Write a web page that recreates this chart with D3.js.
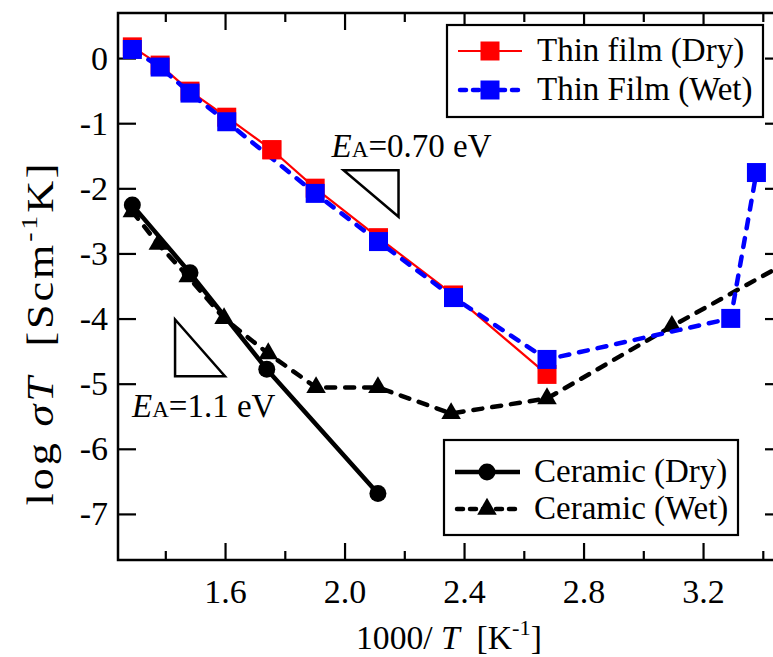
<!DOCTYPE html>
<html>
<head>
<meta charset="utf-8">
<script src="https://cdn.jsdelivr.net/npm/d3@7"></script>
<style>
  body { margin: 0; background: #fff; }
  svg { display: block; font-family: "Liberation Serif", "Times New Roman", serif; }
</style>
</head>
<body>
<svg id="chart" width="773" height="657"></svg>
<script>
// data (x = 1000/T, y = log sigmaT)
var thinX      = [1.288, 1.381, 1.481, 1.604, 1.755, 1.900, 2.112, 2.363, 2.676];
var thinDryY   = [0.18, -0.10, -0.50, -0.90, -1.40, -1.99, -2.75, -3.63, -4.85];
var thinWetX   = [1.288, 1.381, 1.481, 1.604, 1.900, 2.112, 2.363, 2.676, 3.291, 3.377];
var thinWetY   = [0.14, -0.13, -0.53, -0.97, -2.07, -2.81, -3.67, -4.62, -3.99, -1.75];
var ceraDryX   = [1.288, 1.481, 1.738, 2.110];
var ceraDryY   = [-2.25, -3.29, -4.77, -6.68];
var ceraWetX   = [1.288, 1.375, 1.475, 1.595, 1.743, 1.903, 2.110, 2.355, 2.676, 3.094, 3.50];
var ceraWetY   = [-2.35, -2.85, -3.35, -3.99, -4.53, -5.05, -5.05, -5.45, -5.22, -4.11, -3.08];

var xMajor = [1.6, 2.0, 2.4, 2.8, 3.2];
var xMinor = [1.4, 1.8, 2.2, 2.6, 3.0, 3.4];
var yTicks = [0, -1, -2, -3, -4, -5, -6, -7];

var legendTop = ["Thin film (Dry)", "Thin Film (Wet)"];
var legendBottom = ["Ceramic (Dry)", "Ceramic (Wet)"];

// slope triangles (data units)
var slopeHi = [[1.995, -1.713], [2.179, -1.713], [2.179, -2.43]];
var slopeLo = [[1.431, -4.006], [1.431, -4.877], [1.598, -4.877]];

var svg = d3.select("#chart");
var pL = 118, pT = 13, pB = 560, pR = 784;

var x = d3.scaleLinear().domain([1.24, 3.4]).range([pL, 763.3]);
var y = d3.scaleLinear().domain([-7.7, 0.7]).range([pB, pT]);

function zip(xs, ys) { return xs.map(function(d, i) { return [d, ys[i]]; }); }
function at(d) { return "translate(" + x(d[0]) + "," + y(d[1]) + ")"; }

svg.append("clipPath").attr("id", "clip")
    .append("rect").attr("x", pL).attr("y", pT)
    .attr("width", pR - pL).attr("height", pB - pT);

// frame
svg.append("rect")
    .attr("x", pL).attr("y", pT)
    .attr("width", pR - pL).attr("height", pB - pT)
    .attr("fill", "none").attr("stroke", "#000").attr("stroke-width", 2.5);

// ticks (inward, all four sides)
var tk = svg.append("g").attr("stroke", "#000").attr("stroke-width", 2.2);
xMajor.forEach(function(v) {
    tk.append("line").attr("x1", x(v)).attr("x2", x(v)).attr("y1", pB).attr("y2", pB - 17);
    tk.append("line").attr("x1", x(v)).attr("x2", x(v)).attr("y1", pT).attr("y2", pT + 17);
});
xMinor.forEach(function(v) {
    tk.append("line").attr("x1", x(v)).attr("x2", x(v)).attr("y1", pB).attr("y2", pB - 9);
    tk.append("line").attr("x1", x(v)).attr("x2", x(v)).attr("y1", pT).attr("y2", pT + 9);
});
yTicks.forEach(function(v) {
    tk.append("line").attr("x1", pL).attr("x2", pL + 18).attr("y1", y(v)).attr("y2", y(v));
    tk.append("line").attr("x1", pR).attr("x2", pR - 19).attr("y1", y(v)).attr("y2", y(v));
});

// tick labels
svg.append("g").selectAll("text").data(xMajor).enter().append("text")
    .attr("x", function(d) { return x(d); }).attr("y", 603)
    .attr("text-anchor", "middle").attr("font-size", 34)
    .text(function(d) { return d.toFixed(1); });

svg.append("g").selectAll("text").data(yTicks).enter().append("text")
    .attr("x", 108).attr("y", function(d) { return y(d) + 11; })
    .attr("text-anchor", "end").attr("font-size", 34)
    .text(function(d) { return d === 0 ? "0" : "-" + Math.abs(d); });

// stretch a title along its writing direction to the length seen in the picture
function stretch(sel, base, len) {
    var w = sel.node().getBBox().width;
    sel.attr("transform", base + " scale(" + (len / w) + ",1)");
}

// axis titles
var xt = svg.append("text").attr("text-anchor", "middle").attr("font-size", 33);
xt.append("tspan").text("1000/ ");
xt.append("tspan").attr("font-style", "italic").text("T");
xt.append("tspan").attr("xml:space", "preserve").text("  [K");
xt.append("tspan").attr("font-size", 22).attr("dy", -14).text("-1");
xt.append("tspan").attr("dy", 14).text("]");
stretch(xt, "translate(449,649)", 186);

var yt = svg.append("text").attr("text-anchor", "middle").attr("font-size", 38)
    .attr("letter-spacing", 2.5);
yt.append("tspan").text("log ");
yt.append("tspan").attr("font-style", "italic").text("\u03c3T");
yt.append("tspan").attr("xml:space", "preserve").text("  [Scm");
yt.append("tspan").attr("font-size", 24).attr("dy", -16).text("-1");
yt.append("tspan").attr("dy", 16).text("K]");
stretch(yt, "translate(53,333) rotate(-90)", 345);

// data
var plot = svg.append("g").attr("clip-path", "url(#clip)");
var line = d3.line().x(function(d) { return x(d[0]); }).y(function(d) { return y(d[1]); });

var sq = d3.symbol().type(d3.symbolSquare).size(361);
var circ = d3.symbol().type(d3.symbolCircle).size(227);
var tri = d3.symbol().type(d3.symbolTriangle).size(165);

// ceramic dry
plot.append("path").datum(zip(ceraDryX, ceraDryY)).attr("d", line)
    .attr("fill", "none").attr("stroke", "#000").attr("stroke-width", 4.5);
// ceramic wet
plot.append("path").datum(zip(ceraWetX, ceraWetY)).attr("d", line)
    .attr("fill", "none").attr("stroke", "#000").attr("stroke-width", 4.5)
    .attr("stroke-dasharray", "9,10").attr("stroke-linecap", "round");
plot.selectAll(".tri").data(zip(ceraWetX, ceraWetY)).enter().append("path")
    .attr("class", "tri").attr("d", tri).attr("transform", at);
plot.selectAll(".circ").data(zip(ceraDryX, ceraDryY)).enter().append("path")
    .attr("class", "circ").attr("d", circ).attr("transform", at);

// thin film dry
plot.append("path").datum(zip(thinX, thinDryY)).attr("d", line)
    .attr("fill", "none").attr("stroke", "#ff0000").attr("stroke-width", 2.2);
plot.selectAll(".sqr").data(zip(thinX, thinDryY)).enter().append("path")
    .attr("class", "sqr").attr("d", sq).attr("fill", "#ff0000").attr("transform", at);
// thin film wet
plot.append("path").datum(zip(thinWetX, thinWetY)).attr("d", line)
    .attr("fill", "none").attr("stroke", "#0000ff").attr("stroke-width", 4.5)
    .attr("stroke-dasharray", "9,10").attr("stroke-linecap", "round");
plot.selectAll(".sqb").data(zip(thinWetX, thinWetY)).enter().append("path")
    .attr("class", "sqb").attr("d", sq).attr("fill", "#0000ff").attr("transform", at);
// red square at 1.755 sits above the wet line
plot.append("path").datum([thinX[4], thinDryY[4]]).attr("d", sq).attr("fill", "#ff0000")
    .attr("transform", at);

// slope triangles
[slopeHi, slopeLo].forEach(function(t) {
    svg.append("path")
        .attr("d", line(t) + "Z")
        .attr("fill", "none").attr("stroke", "#000").attr("stroke-width", 2.5);
});

function eaLabel(px, py, val) {
    var t = svg.append("text").attr("x", px).attr("y", py).attr("font-size", 33);
    t.append("tspan").attr("font-style", "italic").text("E");
    t.append("tspan").attr("font-size", 23).text("A");
    t.append("tspan").text("=" + val + " eV");
}
eaLabel(x(1.955), y(-1.51), "0.70");
eaLabel(x(1.287), y(-5.50), "1.1");

// legends
function legend(bx, by, bw, bh, rowY, labels, draw) {
    var g = svg.append("g");
    g.append("rect").attr("x", bx).attr("y", by).attr("width", bw).attr("height", bh)
        .attr("fill", "#fff").attr("stroke", "#000").attr("stroke-width", 2.2);
    labels.forEach(function(lab, i) {
        var ly = rowY[i];
        draw(g, i, ly);
        g.append("text").attr("x", bx + 90).attr("y", ly + 10).attr("font-size", 33).text(lab);
    });
}

legend(447, 25, 316, 92, [51, 90], legendTop, function(g, i, ly) {
    if (i === 0) {
        g.append("line").attr("x1", 458).attr("x2", 522).attr("y1", ly).attr("y2", ly)
            .attr("stroke", "#ff0000").attr("stroke-width", 2.2);
        g.append("path").attr("d", sq).attr("fill", "#ff0000").attr("transform", "translate(490," + ly + ")");
    } else {
        g.append("line").attr("x1", 460).attr("x2", 522).attr("y1", ly).attr("y2", ly)
            .attr("stroke", "#0000ff").attr("stroke-width", 4.5)
            .attr("stroke-dasharray", "6,7").attr("stroke-linecap", "round");
        g.append("path").attr("d", sq).attr("fill", "#0000ff").attr("transform", "translate(490," + ly + ")");
    }
});

legend(444, 440, 294, 95, [472, 509], legendBottom, function(g, i, ly) {
    if (i === 0) {
        g.append("line").attr("x1", 455).attr("x2", 520).attr("y1", ly).attr("y2", ly)
            .attr("stroke", "#000").attr("stroke-width", 4.5);
        g.append("path").attr("d", circ).attr("transform", "translate(487," + ly + ")");
    } else {
        g.append("line").attr("x1", 457).attr("x2", 520).attr("y1", ly).attr("y2", ly)
            .attr("stroke", "#000").attr("stroke-width", 4.5)
            .attr("stroke-dasharray", "6,7").attr("stroke-linecap", "round");
        g.append("path").attr("d", tri).attr("transform", "translate(487," + ly + ")");
    }
});
</script>
</body>
</html>
